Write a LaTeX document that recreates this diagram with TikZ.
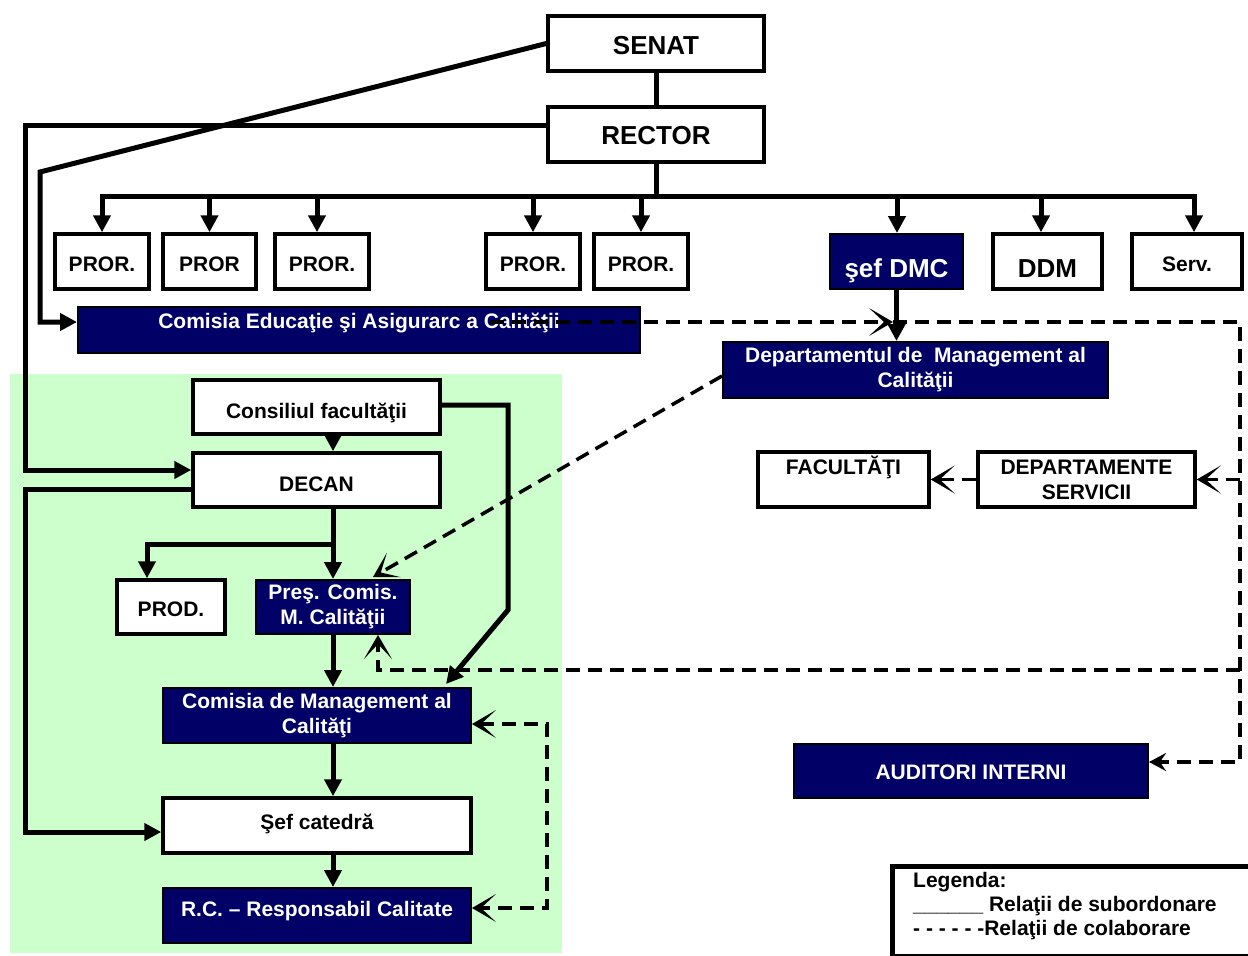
\documentclass[tikz,border=0pt]{standalone}
\usepackage{fontspec}
\setmainfont{Liberation Sans}
\usetikzlibrary{arrows.meta}
\definecolor{navy}{RGB}{0,0,102}
\definecolor{lgreen}{RGB}{204,255,204}
\tikzset{
  base/.style={inner sep=0pt, align=center, font=\bfseries\fontsize{21}{25}\selectfont},
  wbox/.style={base, draw=black, line width=3.5pt, fill=white},
  nbox/.style={base, draw=black, line width=2pt, fill=navy, text=white},
  big/.style={font=\bfseries\fontsize{26}{30}\selectfont},
  sz/.style 2 args={minimum width=#1, minimum height=#2},
  th/.style={text height=#1, text depth=0pt},
  subl/.style={line width=5pt},
  sub/.style={line width=5pt, -{Triangle[length=17pt,width=17pt]}},
  col/.style={line width=3.5pt, dash pattern=on 14pt off 8pt,
    >={Stealth[length=24pt,width=28pt,inset=15pt]}},
}
\begin{document}
\begin{tikzpicture}[x=1pt,y=-1pt]
\useasboundingbox (0,0) rectangle (1248,956);
\fill[lgreen] (10,374) rectangle (562,953);

% top nodes
\node[wbox,big,sz={216}{55},th=21pt] (senat) at (656,43.5) {SENAT};
\node[wbox,big,sz={216}{55},th=19pt] (rector) at (656,134.5) {RECTOR};
\node[wbox,sz={94}{55},th=20pt] (p1) at (102,261.5) {PROR.};
\node[wbox,sz={93}{55},th=20pt] (p2) at (209.5,261.5) {PROR};
\node[wbox,sz={94}{55},th=20pt] (p3) at (322,261.5) {PROR.};
\node[wbox,sz={94}{55},th=20pt] (p4) at (533,261.5) {PROR.};
\node[wbox,sz={94}{55},th=20pt] (p5) at (641,261.5) {PROR.};
\node[nbox,big,sz={133}{55},th=32pt] (dmc) at (896.5,261.5) {şef DMC};
\node[wbox,big,sz={109}{55},th=32pt] (ddm) at (1047.5,261.5) {DDM};
\node[wbox,sz={110}{55},th=20pt] (serv) at (1187,261.5) {Serv.};

\node[nbox,sz={562}{46}] (cea) at (359,330) {};
\node[base,text=white,th=15.3pt] (ceat) at (359,321) {Comisia Educaţie şi Asigurarc a Calităţii};
\node[nbox,sz={385}{56}] (dep) at (915.5,370) {Departamentul de\ \ Management al\\Calităţii};

\node[wbox,sz={171}{55}] (fac) at (843.5,479.5) {};
\node[base,th=15.3pt] (fact) at (843.5,467) {FACULTĂŢI};
\node[wbox,sz={217}{55}] (dserv) at (1086.5,479.5) {DEPARTAMENTE\\SERVICII};
\node[nbox,sz={354}{54},th=17.3pt] (aud) at (971,771) {AUDITORI INTERNI};

% faculty nodes
\node[wbox,sz={247}{54},th=23.3pt] (cons) at (316.5,407) {Consiliul facultăţii};
\node[wbox,sz={247}{54},th=23.3pt] (decan) at (316.5,480) {DECAN};
\node[wbox,sz={108}{54},th=19.3pt] (prod) at (171,607) {PROD.};
\node[nbox,sz={154}{54}] (pres) at (333,607) {Preş. Comis.\\M. Calităţii};
\node[nbox,sz={308}{55}] (cmc) at (317,715.5) {Comisia de Management al\\Calităţi};
\node[wbox,sz={308}{55},th=8.3pt] (sef) at (317,825.5) {Şef catedră};
\node[nbox,sz={308}{55},th=2.3pt] (rc) at (317,915.5) {R.C. – Responsabil Calitate};

% legend
\node[draw,line width=5pt,sz={366}{90},anchor=north west,inner sep=0pt] (leg) at (890,864) {};
\node[base,anchor=base west] (leg1) at (913,887) {Legenda:};
\node[base,anchor=base west] (leg2) at (913,911) {\_\_\_\_\_\_ Relaţii de subordonare};
\node[base,anchor=base west] (leg3) at (913,935) {- - - - - -Relaţii de colaborare};

% subordination lines
\coordinate (bar) at (656,196);
\coordinate (barL) at (102,196);
\coordinate (barR) at (1194,196);
\draw[subl] (senat) -- (rector);
\draw[subl] (rector.south) -- (bar);
\draw[subl,line cap=rect] (barL) -- (barR);
\foreach \n/\dx in {p1/0,p2/0,p3/-5,p4/0,p5/0,dmc/0.5,ddm/-6.5,serv/7}
  \draw[sub] ([xshift=\dx pt,yshift=38pt]\n.north) -- ([xshift=\dx pt]\n.north);

\draw[sub] (senat.west) -- (40,172) -- (40,322) -- ([yshift=8pt]cea.west);
\draw[sub] ([yshift=9.5pt]rector.west) -- (25,125) -- (25,470) -- ([yshift=10pt]decan.west);
\draw[sub] ([yshift=-9pt]decan.west) -- (25,489) -- (25,832) -- ([yshift=-6.5pt]sef.west);
\draw[sub] ([yshift=2pt]cons.east) -- (508,405) -- (508,610) -- ([xshift=-26pt,yshift=3pt]cmc.north east);
\draw[sub] (cons.south -| pres.north) -- (decan.north -| pres.north);
\coordinate (br) at (333,544);
\draw[sub] (decan.south -| pres.north) -- (pres.north);
\draw[sub] (br) -| ([xshift=-24pt]prod.north);
\draw[sub] (pres.south) -- (cmc.north -| pres.south);
\draw[sub] (cmc.south -| pres.south) -- (sef.north -| pres.south);
\draw[sub] (sef.south -| pres.south) -- (rc.north -| pres.south);
\draw[sub] (dmc.south) -- (dep.north -| dmc.south);

% collaboration lines
\coordinate (ceaS) at (490,322);
\coordinate (mid) at (893,322);
\coordinate (tr) at (1240,322);
\draw[col,->] (ceaS) -- (mid);
\draw[col,-{Stealth[length=17pt,width=18pt,inset=6pt]}] (mid) -- (tr) |- ([yshift=9pt]aud.east);
\draw[col,->] (tr |- dserv.east) -- (dserv.east);
\draw[col,->] (tr |- 0,670) -- (378,670) -- ([xshift=45pt]pres.south);
\draw[col,->] (dserv.west) -- (fac.east);
\draw[col,->] ([yshift=-6pt]dep.west) -- ([xshift=-38pt,yshift=2pt]pres.north east);
\draw[col,<->] ([yshift=-8.5pt]cmc.east) -- (547,724) -- (547,908) -- ([yshift=7.5pt]rc.east);
\end{tikzpicture}
\end{document}
